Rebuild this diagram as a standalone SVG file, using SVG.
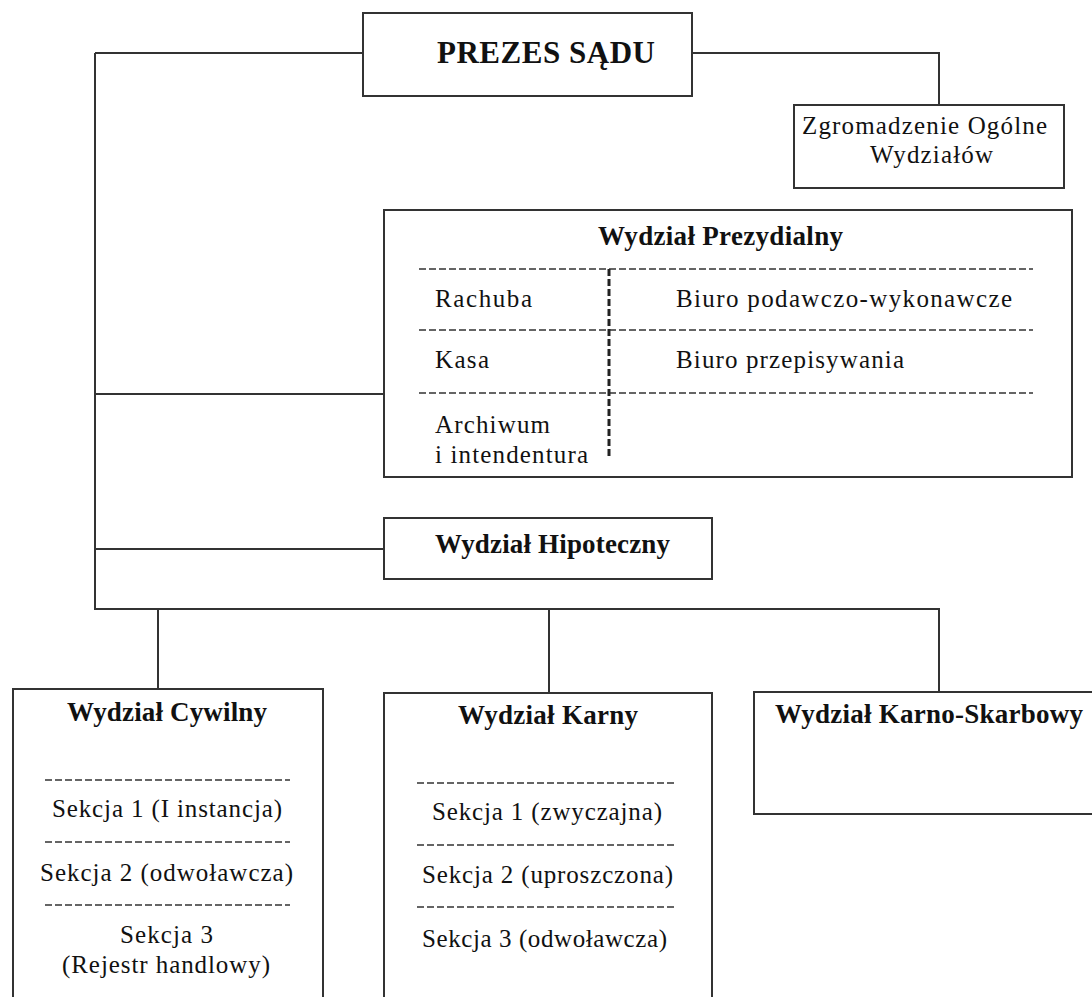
<svg xmlns="http://www.w3.org/2000/svg" width="1092" height="997" viewBox="0 0 1092 997">
<style>
.box{fill:#fff;stroke:#333;stroke-width:2}
.conn{fill:none;stroke:#333;stroke-width:2}
.sep{stroke:#333;stroke-width:1.6;stroke-dasharray:7,3;fill:none}
.vsep{stroke:#222;stroke-width:3;stroke-dasharray:7,3;fill:none}
.t{font-family:"Liberation Serif","Times New Roman",serif;font-size:25px;fill:#111}
.b{font-family:"Liberation Serif","Times New Roman",serif;font-size:27px;font-weight:bold;fill:#111}
</style>
<rect width="1092" height="997" fill="#fff"/>
<g id="connectors">
<path class="conn" d="M95,53 H363"/>
<path class="conn" d="M692,53 H939 V105"/>
<path class="conn" d="M95,53 V609 H939 V692"/>
<path class="conn" d="M95,394 H384"/>
<path class="conn" d="M95,549 H384"/>
<path class="conn" d="M158,609 V689"/>
<path class="conn" d="M549,609 V693"/>
</g>
<g id="prezes">
<rect class="box" x="363" y="13" width="329" height="83"/>
<text class="b" x="437" y="63" style="font-size:31px" textLength="218" lengthAdjust="spacing">PREZES SĄDU</text>
</g>
<g id="zgromadzenie">
<rect class="box" x="794" y="105" width="270" height="83"/>
<text class="t" x="802" y="134" textLength="245" lengthAdjust="spacing">Zgromadzenie Ogólne</text>
<text class="t" x="870" y="163" textLength="123" lengthAdjust="spacing">Wydziałów</text>
</g>
<g id="prezydialny">
<rect class="box" x="384" y="210" width="688" height="267"/>
<text class="b" x="598" y="245" textLength="245" lengthAdjust="spacing">Wydział Prezydialny</text>
<path class="sep" d="M419,269 H1033 M419,330 H1033 M419,393 H1033"/>
<path class="vsep" d="M609,269 V458"/>
<text class="t" x="435" y="307" textLength="97" lengthAdjust="spacing">Rachuba</text>
<text class="t" x="676" y="307" textLength="336" lengthAdjust="spacing">Biuro podawczo-wykonawcze</text>
<text class="t" x="435" y="368" textLength="54" lengthAdjust="spacing">Kasa</text>
<text class="t" x="676" y="368" textLength="228" lengthAdjust="spacing">Biuro przepisywania</text>
<text class="t" x="435" y="433" textLength="115" lengthAdjust="spacing">Archiwum</text>
<text class="t" x="435" y="463" textLength="153" lengthAdjust="spacing">i intendentura</text>
</g>
<g id="hipoteczny">
<rect class="box" x="384" y="518" width="328" height="61"/>
<text class="b" x="435" y="553" textLength="235" lengthAdjust="spacing">Wydział Hipoteczny</text>
</g>
<g id="cywilny">
<rect class="box" x="13" y="689" width="310" height="330"/>
<text class="b" x="67" y="721" textLength="200" lengthAdjust="spacing">Wydział Cywilny</text>
<path class="sep" d="M45,780 H290 M45,842 H290 M45,905 H290"/>
<text class="t" x="52" y="817" textLength="230" lengthAdjust="spacing">Sekcja 1 (I instancja)</text>
<text class="t" x="40" y="881" textLength="253" lengthAdjust="spacing">Sekcja 2 (odwoławcza)</text>
<text class="t" x="120" y="943" textLength="93" lengthAdjust="spacing">Sekcja 3</text>
<text class="t" x="62" y="973" textLength="208" lengthAdjust="spacing">(Rejestr handlowy)</text>
</g>
<g id="karny">
<rect class="box" x="384" y="693" width="328" height="330"/>
<text class="b" x="458" y="724" textLength="180" lengthAdjust="spacing">Wydział Karny</text>
<path class="sep" d="M417,783 H677 M417,845 H677 M417,907 H677"/>
<text class="t" x="432" y="820" textLength="230" lengthAdjust="spacing">Sekcja 1 (zwyczajna)</text>
<text class="t" x="422" y="883" textLength="251" lengthAdjust="spacing">Sekcja 2 (uproszczona)</text>
<text class="t" x="422" y="947" textLength="245" lengthAdjust="spacing">Sekcja 3 (odwoławcza)</text>
</g>
<g id="karno-skarbowy">
<rect class="box" x="754" y="692" width="360" height="122"/>
<text class="b" x="775" y="723" textLength="308" lengthAdjust="spacing">Wydział Karno-Skarbowy</text>
</g>
</svg>
